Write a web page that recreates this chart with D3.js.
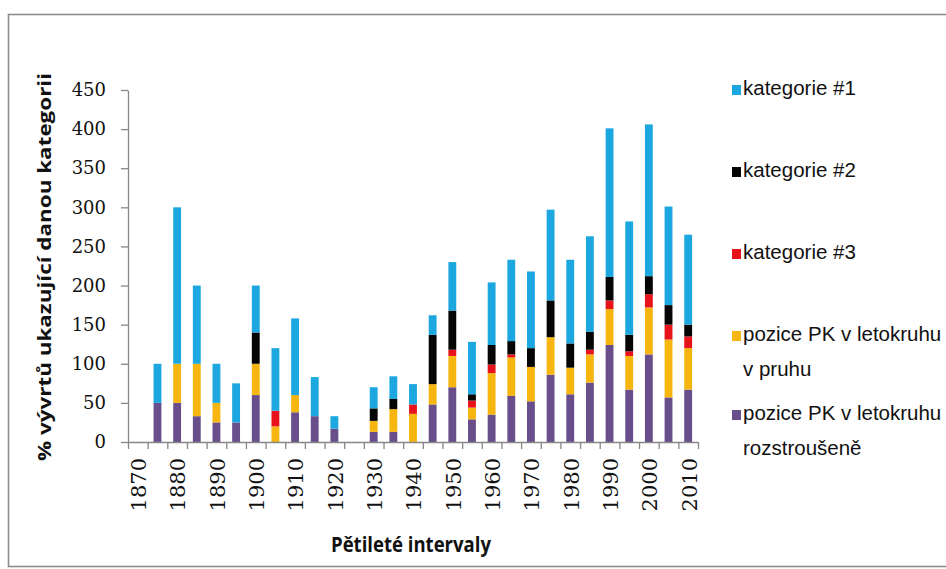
<!DOCTYPE html>
<html>
<head>
<meta charset="utf-8">
<script src="https://cdn.jsdelivr.net/npm/d3@7/dist/d3.min.js"></script>
<style>
  html, body { margin: 0; padding: 0; background: #fff; overflow: hidden; }
  svg { display: block; }
</style>
</head>
<body>
<svg id="chart" width="946" height="569"></svg>
<script>
// Five-year intervals
const years = d3.range(1870, 2011, 5);

// Series values (% of cores), one value per interval
const rozstrousene = [0, 50, 50, 33, 25, 25, 60, 0, 38, 33, 17, 0, 13, 13, 0, 48, 70, 29, 35, 59, 52, 86, 61, 76, 124, 67, 112, 57, 67];
const vPruhu       = [0, 0, 50, 67, 25, 0, 40, 20, 22, 0, 0, 0, 14, 29, 36, 26, 40, 15, 53, 49, 44, 48, 34, 36, 46, 43, 60, 74, 53];
const kategorie3   = [0, 0, 0, 0, 0, 0, 0, 20, 0, 0, 0, 0, 0, 0, 12, 0, 8, 9, 11, 4, 0, 0, 0, 6, 11, 6, 17, 19, 15];
const kategorie2   = [0, 0, 0, 0, 0, 0, 40, 0, 0, 0, 0, 0, 16, 13, 0, 63, 50, 8, 25, 17, 24, 47, 31, 23, 30, 21, 23, 25, 15];
const kategorie1   = [0, 50, 200, 100, 50, 50, 60, 80, 98, 50, 16, 0, 27, 29, 26, 25, 62, 67, 80, 104, 98, 116, 107, 122, 190, 145, 194, 126, 115];

const yTicks = [0, 50, 100, 150, 200, 250, 300, 350, 400, 450];
const xLabelYears = d3.range(1870, 2011, 10);

// Stack order, bottom to top
const seriesKeys = ["rozstrousene", "vPruhu", "kategorie3", "kategorie2", "kategorie1"];
const seriesValues = { rozstrousene, vPruhu, kategorie3, kategorie2, kategorie1 };
const seriesColors = {
  rozstrousene: "#684f8c",
  vPruhu: "#f6b60f",
  kategorie3: "#e8121a",
  kategorie2: "#050505",
  kategorie1: "#1ca7e0"
};

// Legend entries, top to bottom
const legendItems = [
  { key: "kategorie1", lines: ["kategorie #1"] },
  { key: "kategorie2", lines: ["kategorie #2"] },
  { key: "kategorie3", lines: ["kategorie #3"] },
  { key: "vPruhu", lines: ["pozice PK v letokruhu", "v pruhu"] },
  { key: "rozstrousene", lines: ["pozice PK v letokruhu", "rozstroušeně"] }
];

const rows = years.map((yr, i) => {
  const r = { year: yr };
  seriesKeys.forEach(k => r[k] = seriesValues[k][i]);
  return r;
});

const svg = d3.select("#chart");

// Outer frame
svg.append("rect")
  .attr("x", 8.5).attr("y", 14.5)
  .attr("width", 960).attr("height", 552)
  .attr("fill", "#fff")
  .attr("stroke", "#8e8e8e").attr("stroke-width", 1.6);

const plot = { left: 128, right: 698, top: 90, bottom: 442 };

const x = d3.scaleBand()
  .domain(years)
  .range([plot.left, plot.right])
  .paddingInner(0.6)
  .paddingOuter(0.3);

const y = d3.scaleLinear()
  .domain([0, 450])
  .range([plot.bottom, plot.top]);

// Stacked bars
const stack = d3.stack().keys(seriesKeys)(rows);

svg.append("g")
  .selectAll("g")
  .data(stack)
  .join("g")
  .attr("fill", d => seriesColors[d.key])
  .selectAll("rect")
  .data(d => d.filter(s => s[1] - s[0] > 0))
  .join("rect")
  .attr("x", d => x(d.data.year))
  .attr("width", x.bandwidth())
  .attr("y", d => y(d[1]))
  .attr("height", d => y(d[0]) - y(d[1]));

const axisColor = "#878787";

// Y axis
const yAxis = svg.append("g")
  .attr("transform", `translate(${plot.left},0)`)
  .call(d3.axisLeft(y).tickValues(yTicks).tickSize(7).tickPadding(15).tickSizeOuter(0));
yAxis.select(".domain").attr("stroke", axisColor).attr("stroke-width", 1.3);
yAxis.selectAll(".tick line").attr("stroke", axisColor).attr("stroke-width", 1.3);
yAxis.selectAll(".tick text")
  .attr("fill", "#111")
  .style("font-family", "'DejaVu Serif', serif")
  .style("font-size", "18px");

// X axis: tick marks on category boundaries
const boundary = d3.scaleLinear().domain([0, years.length]).range([plot.left, plot.right]);
const xTickAxis = svg.append("g")
  .attr("transform", `translate(0,${plot.bottom})`)
  .call(d3.axisBottom(boundary).tickValues(d3.range(years.length + 1)).tickSize(7).tickSizeOuter(0).tickFormat(""));
xTickAxis.select(".domain").attr("stroke", axisColor).attr("stroke-width", 1.3);
xTickAxis.selectAll(".tick line").attr("stroke", axisColor).attr("stroke-width", 1.3);

// X axis labels, every other interval
const xLabelAxis = svg.append("g")
  .attr("transform", `translate(0,${plot.bottom})`)
  .call(d3.axisBottom(x).tickValues(xLabelYears).tickSize(0).tickPadding(0));
xLabelAxis.select(".domain").remove();
xLabelAxis.selectAll(".tick text")
  .attr("transform", "rotate(-90)")
  .attr("text-anchor", "end")
  .attr("x", -16)
  .attr("y", 1)
  .attr("dy", "0.35em")
  .attr("fill", "#111")
  .style("font-family", "'DejaVu Serif', serif")
  .style("font-size", "21px");

// Axis titles
svg.append("text")
  .attr("transform", "translate(51,267) rotate(-90)")
  .attr("text-anchor", "middle")
  .attr("fill", "#111")
  .style("font-family", "'Open Sans', sans-serif")
  .style("font-weight", "bold")
  .style("font-size", "18px")
  .attr("textLength", 388)
  .attr("lengthAdjust", "spacingAndGlyphs")
  .text("% vývrtů ukazující danou kategorii");

svg.append("text")
  .attr("x", 411).attr("y", 552)
  .attr("text-anchor", "middle")
  .attr("fill", "#111")
  .style("font-family", "'Open Sans', sans-serif")
  .style("font-weight", "bold")
  .style("font-size", "21px")
  .attr("textLength", 160)
  .attr("lengthAdjust", "spacingAndGlyphs")
  .text("Pětileté intervaly");

// Legend
const legendY = [88, 170, 252, 334, 413];
const legend = svg.append("g");
legendItems.forEach((item, i) => {
  const cy = legendY[i];
  legend.append("rect")
    .attr("x", 732).attr("y", cy - 3)
    .attr("width", 9).attr("height", 10)
    .attr("fill", seriesColors[item.key]);
  item.lines.forEach((line, j) => {
    legend.append("text")
      .attr("x", 743)
      .attr("y", cy + 7 + j * 35)
      .attr("fill", "#111")
      .style("font-family", "'Liberation Sans', Arial, sans-serif")
      .style("font-size", "20.5px")
      .text(line);
  });
});
</script>
</body>
</html>
